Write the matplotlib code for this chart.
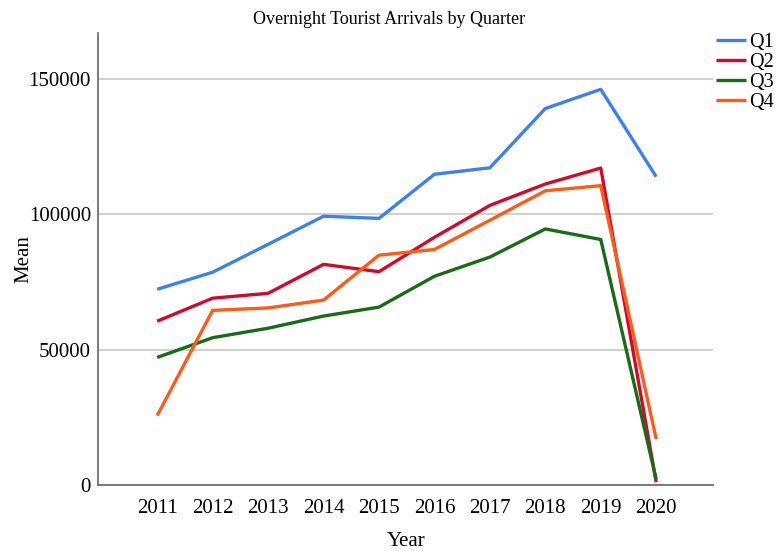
import matplotlib
matplotlib.use('Agg')
import matplotlib.pyplot as plt

years = [2011, 2012, 2013, 2014, 2015, 2016, 2017, 2018, 2019, 2020]
q1 = [72300, 78600, 88900, 99300, 98500, 114800, 117200, 139100, 146200, 113900]
q2 = [60500, 69000, 70800, 81500, 78800, 91500, 103300, 111200, 117100, 1000]
q3 = [47100, 54400, 57900, 62400, 65700, 77100, 84200, 94600, 90700, 2000]
q4 = [25600, 64500, 65400, 68300, 84900, 87000, 97800, 108700, 110600, 16900]

series = {'Q1': q1, 'Q2': q2, 'Q3': q3, 'Q4': q4}
colors = {'Q1': '#3d82e8', 'Q2': '#d4082a', 'Q3': '#1a6b17', 'Q4': '#ff5a17'}

plt.rcParams['font.family'] = ['Liberation Serif', 'DejaVu Serif']

fig = plt.figure(figsize=(7.83, 5.51), dpi=100)
ax = fig.add_axes([0.125, 0.12, 0.786, 0.82])

for name, vals in series.items():
    ax.plot(years, vals, color=colors[name], linewidth=2.4, label=name,
            solid_capstyle='butt', zorder=3)

ax.set_xlim(2009.93, 2021.03)
ax.set_ylim(0, 167000)
ax.set_xticks(years)
ax.set_yticks([0, 50000, 100000, 150000])
ax.tick_params(axis='both', length=0, labelsize=15)
ax.tick_params(axis='x', pad=10)
ax.tick_params(axis='y', pad=5)
ax.grid(axis='y', color='#c8c8c8', linewidth=1.2, zorder=1)
ax.set_axisbelow(True)

for sp in ['top', 'right']:
    ax.spines[sp].set_visible(False)
for sp in ['left', 'bottom']:
    ax.spines[sp].set_color('#707070')
    ax.spines[sp].set_linewidth(1.3)

ax.set_xlabel('Year', fontsize=15, labelpad=10)
ax.set_ylabel('Mean', fontsize=15)
ax.yaxis.set_label_coords(-0.104, 0.5)
fig.text(0.497, 0.965, 'Overnight Tourist Arrivals by Quarter', fontsize=13,
         ha='center', va='center')

fig.legend(loc='upper left', bbox_to_anchor=(0.914, 0.94), frameon=False,
           fontsize=14.5, handlelength=1.5, handletextpad=0.15,
           labelspacing=0.05, borderaxespad=0, borderpad=0)

fig.savefig('out.png', dpi=100, facecolor='white')
